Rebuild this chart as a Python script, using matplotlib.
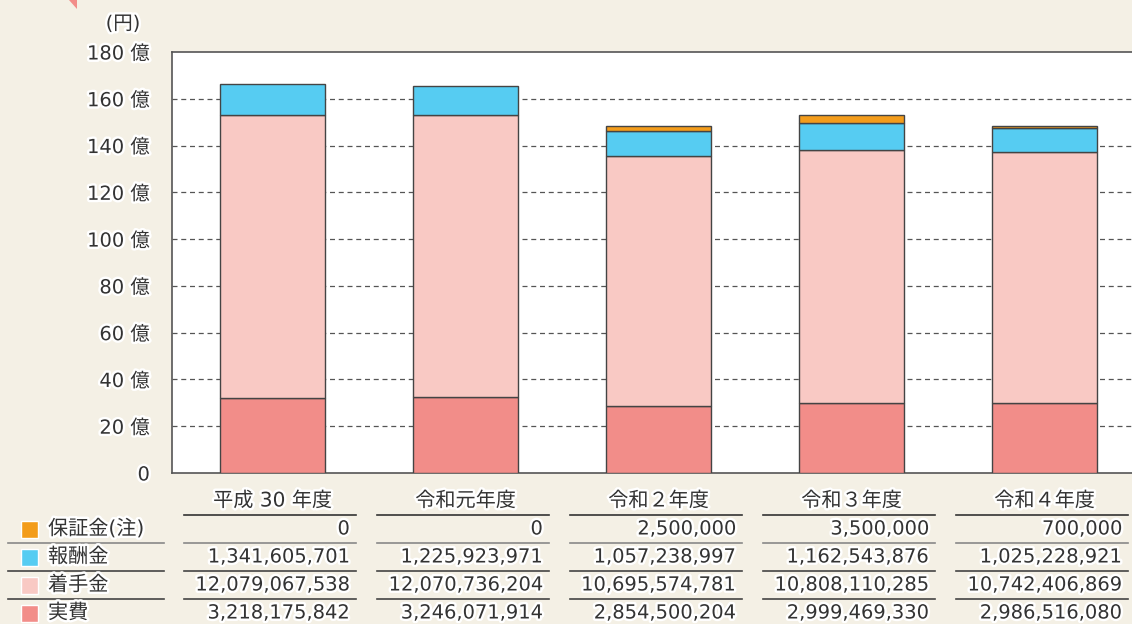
import numpy as np
import matplotlib
matplotlib.use("Agg")
import matplotlib.pyplot as plt
import matplotlib.patheffects as pe
from matplotlib.transforms import blended_transform_factory
from matplotlib.patches import Polygon, Rectangle

plt.rcParams["font.family"] = ["DejaVu Sans", "Noto Sans CJK JP"]

# ── Data (yen) ────────────────────────────────────────────────────────────────
years = ["平成 30 年度", "令和元年度", "令和２年度", "令和３年度", "令和４年度"]
jippi = [3218175842, 3246071914, 2854500204, 2999469330, 2986516080]        # 実費
chakushu = [12079067538, 12070736204, 10695574781, 10808110285, 10742406869]  # 着手金
houshu = [1341605701, 1225923971, 1057238997, 1162543876, 1025228921]       # 報酬金
hoshou = [0, 0, 2500000, 3500000, 700000]                                   # 保証金(注)

y_ticks = [0, 20, 40, 60, 80, 100, 120, 140, 160, 180]
y_tick_labels = ["0"] + [f"{v} 億" for v in y_ticks[1:]]

OKU = 1e8
# the source chart draws 保証金 at 100x scale so the sliver is visible
HOSHOU_DRAW_SCALE = 100

C_HOSHOU = "#f39c1b"
C_HOUSHU = "#56ccf2"
C_CHAKU = "#f9c9c4"
C_JIPPI = "#f28d89"
BG = "#f4f0e5"
EDGE = "#444444"
TXT = "#333333"

W, H = 1132, 624
halo = [pe.withStroke(linewidth=3.5, foreground="white")]


def fy(py):
    return 1 - py / H


def fx(px):
    return px / W


fig = plt.figure(figsize=(W / 100, H / 100), dpi=100, facecolor=BG)
ax = fig.add_axes([fx(172), fy(473), fx(960), (473 - 52) / H])
ax.set_facecolor("white")

x = np.arange(len(years))
bw = 0.544
j = np.array(jippi) / OKU
c = np.array(chakushu) / OKU
h = np.array(houshu) / OKU
g = np.array(hoshou) / OKU * HOSHOU_DRAW_SCALE

kw = dict(width=bw, edgecolor=EDGE, linewidth=1.0, zorder=3)
ax.bar(x, j, color=C_JIPPI, **kw)
ax.bar(x, c, bottom=j, color=C_CHAKU, **kw)
ax.bar(x, h, bottom=j + c, color=C_HOUSHU, **kw)
ax.bar(x, g, bottom=j + c + h, color=C_HOSHOU,
       **{**kw, "linewidth": np.where(g > 0, 1.0, 0.0)})

ax.set_xlim(-0.521, -0.521 + 960 / 193)
ax.set_ylim(0, 180)
ax.set_xticks([])
ax.set_yticks(y_ticks)
ax.set_yticklabels(y_tick_labels, fontsize=14, color=TXT)
for t in ax.get_yticklabels():
    t.set_path_effects(halo)
ax.tick_params(axis="y", length=0, pad=16)
for v in y_ticks[1:-1]:
    ax.axhline(v, color="#555555", lw=0.9, ls=(0, (4, 3)), zorder=1)
for s in ("left", "bottom", "top"):
    ax.spines[s].set_color("#555555")
    ax.spines[s].set_linewidth(1.2)
ax.spines["right"].set_visible(False)

fig.text(fx(123), fy(24), "(円)", ha="center", va="center", fontsize=14,
         color=TXT, path_effects=halo)

# ── Data table under the chart ───────────────────────────────────────────────
trans = blended_transform_factory(ax.transData, fig.transFigure)
rows = [("保証金(注)", C_HOSHOU, hoshou),
        ("報酬金", C_HOUSHU, houshu),
        ("着手金", C_CHAKU, chakushu),
        ("実費", C_JIPPI, jippi)]
row_y = [529, 557, 585, 613]
line_y = [543, 571, 599]

for i, yr in enumerate(years):
    ax.text(i, fy(501), yr, transform=trans, ha="center", va="center",
            fontsize=14.5, color=TXT, path_effects=halo, clip_on=False)
    ax.plot([i - 0.46, i + 0.43], [fy(515)] * 2, transform=trans,
            color="#333333", lw=1.2, clip_on=False)
    for r, (name, col, vals) in enumerate(rows):
        ax.text(i + 0.40, fy(row_y[r]), f"{vals[i]:,}", transform=trans,
                ha="right", va="center", fontsize=14, color=TXT,
                path_effects=halo, clip_on=False)
    for k, ly in enumerate(line_y):
        ax.plot([i - 0.46, i + 0.43], [fy(ly)] * 2, transform=trans,
                color="#888888" if k == 0 else "#444444", lw=1.2,
                clip_on=False)

for r, (name, col, vals) in enumerate(rows):
    fig.patches.append(Rectangle((fx(21), fy(row_y[r] + 8.5)), fx(17), 17 / H,
                                 transform=fig.transFigure, facecolor=col,
                                 edgecolor="white", linewidth=1.0))
    fig.text(fx(48), fy(row_y[r]), name, ha="left", va="center",
             fontsize=14.5, color=TXT, path_effects=halo)
for k, ly in enumerate(line_y):
    fig.lines.append(plt.Line2D([fx(8), fx(164)], [fy(ly)] * 2,
                                transform=fig.transFigure,
                                color="#888888" if k == 0 else "#444444",
                                lw=1.2))

# small decorative corner mark at top-left
fig.patches.append(Polygon([(fx(69), fy(0)), (fx(77), fy(0)), (fx(77), fy(9))],
                           closed=True, transform=fig.transFigure,
                           facecolor=C_JIPPI, edgecolor="none"))

fig.savefig("out.png", dpi=100, facecolor=BG)
